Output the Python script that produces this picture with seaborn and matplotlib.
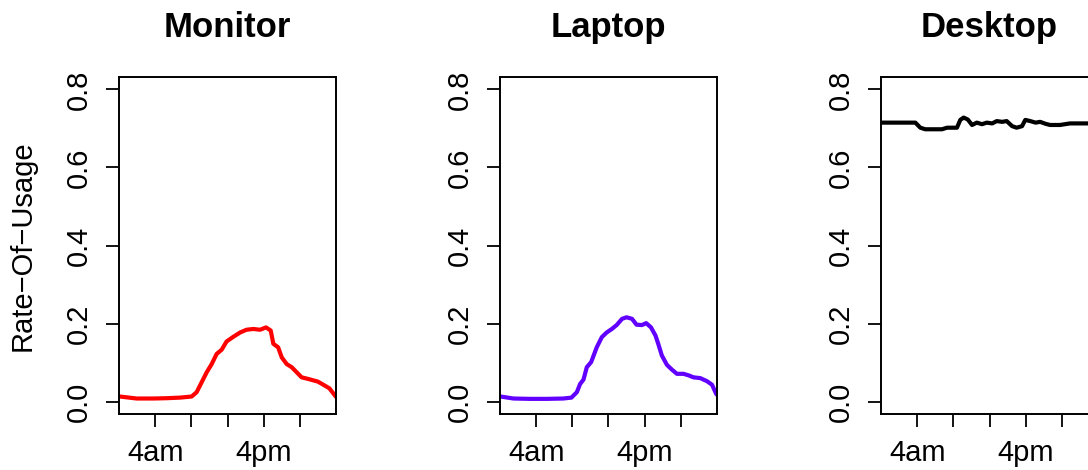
import matplotlib
matplotlib.use("Agg")
import matplotlib.pyplot as plt
import seaborn as sns
import pandas as pd

# Hour of day (0-24) and average rate of usage for each device type
monitor_hours = [0.0, 0.1, 1.95, 3.8, 5.27, 6.75, 8.04, 8.59, 8.96, 9.7, 10.25, 10.8, 11.36,
                 11.9, 12.65, 13.4, 14.1, 14.86, 15.6, 16.26, 16.78, 17.07, 17.6, 18.0,
                 18.55, 19.1, 19.65, 20.2, 20.9, 22.0, 22.6, 23.26, 23.9, 24.0]
monitor_rate = [0.013, 0.0128, 0.0077, 0.0077, 0.0085, 0.010, 0.0128, 0.024, 0.041, 0.075,
                0.096, 0.122, 0.133, 0.154, 0.166, 0.177, 0.184, 0.186, 0.184, 0.190, 0.182,
                0.148, 0.139, 0.113, 0.096, 0.088, 0.075, 0.062, 0.058, 0.051, 0.043, 0.034,
                0.015, 0.012]

laptop_hours = [0.0, 0.07, 1.48, 3.3, 5.2, 7.0, 7.9, 8.5, 8.86, 9.23, 9.6, 10.08, 10.7,
                11.26, 11.8, 12.37, 12.9, 13.5, 14.0, 14.6, 15.1, 15.7, 16.17, 16.7, 17.2,
                17.5, 17.9, 18.46, 19.0, 19.57, 20.3, 20.86, 21.4, 22.15, 22.9, 23.45, 23.9, 24.0]
laptop_rate = [0.013, 0.0128, 0.0077, 0.0068, 0.0068, 0.0077, 0.010, 0.024, 0.045, 0.056,
               0.088, 0.101, 0.139, 0.165, 0.177, 0.186, 0.196, 0.212, 0.216, 0.212, 0.197,
               0.196, 0.201, 0.190, 0.169, 0.148, 0.118, 0.094, 0.082, 0.071, 0.071, 0.067,
               0.062, 0.060, 0.052, 0.043, 0.020, 0.017]

desktop_hours = [0.0, 3.8, 4.35, 4.9, 6.75, 7.3, 8.4, 8.77, 9.14, 9.6, 10.07, 10.6, 11.17,
                 11.7, 12.3, 12.8, 13.4, 13.9, 14.5, 15.0, 15.6, 15.96, 16.5, 17.1, 17.6,
                 18.2, 18.7, 19.8, 20.9, 22.8, 24.0]
desktop_rate = [0.715, 0.715, 0.702, 0.698, 0.698, 0.702, 0.702, 0.722, 0.728, 0.723, 0.709,
                0.715, 0.711, 0.715, 0.713, 0.719, 0.717, 0.719, 0.706, 0.702, 0.706, 0.722,
                0.719, 0.715, 0.717, 0.712, 0.709, 0.709, 0.713, 0.713, 0.713]

devices = ["Monitor", "Laptop", "Desktop"]
colors = ["#FF0000", "#6100FF", "#000000"]
series = [(monitor_hours, monitor_rate), (laptop_hours, laptop_rate), (desktop_hours, desktop_rate)]

x_ticks = [4, 8, 12, 16, 20]
x_tick_labels = ["4am", "", "", "4pm", ""]
y_ticks = [0.0, 0.2, 0.4, 0.6, 0.8]
y_tick_labels = ["0.0", "0.2", "0.4", "0.6", "0.8"]

sns.set_style("white")
plt.rcParams["font.family"] = ["Liberation Sans", "DejaVu Sans"]
plt.rcParams["text.color"] = "black"

W, H = 1088, 470
fig = plt.figure(figsize=(W / 100, H / 100), dpi=100)

panel_lefts = [119, 500, 881]
panel_w, top, bottom = 217, 77, 414

for name, color, (hrs, rate), left in zip(devices, colors, series, panel_lefts):
    ax = fig.add_axes([left / W, (H - bottom) / H, panel_w / W, (bottom - top) / H])
    df = pd.DataFrame({"hour": hrs, "rate": rate})
    sns.lineplot(data=df, x="hour", y="rate", ax=ax, color=color, linewidth=3.0,
                 estimator=None, solid_joinstyle="round", solid_capstyle="round")
    ax.set_xlim(0, 24)
    ax.set_ylim(-0.032, 0.832)
    ax.set_xticks(x_ticks)
    ax.set_xticklabels(x_tick_labels)
    ax.set_yticks(y_ticks)
    ax.set_yticklabels(y_tick_labels, rotation=90, va="center")
    ax.tick_params(axis="both", which="major", direction="out", length=9.6, width=1.3,
                   labelsize=21, color="black", labelcolor="black",
                   bottom=True, left=True, top=False, right=False)
    ax.tick_params(axis="x", pad=8.5)
    ax.tick_params(axis="y", pad=9.5)
    ax.set_xlabel("")
    ax.set_ylabel("")
    for sp in ax.spines.values():
        sp.set_visible(True)
        sp.set_color("black")
        sp.set_linewidth(1.4)
    ax.set_title(name, fontsize=25, fontweight="bold", pad=29, color="black")

fig.text(23 / W, 1 - 246 / H, "Rate\u2212Of\u2212Usage", rotation=90,
         ha="center", va="center", fontsize=21, color="black")

fig.savefig("out.png", dpi=100, facecolor="white")
